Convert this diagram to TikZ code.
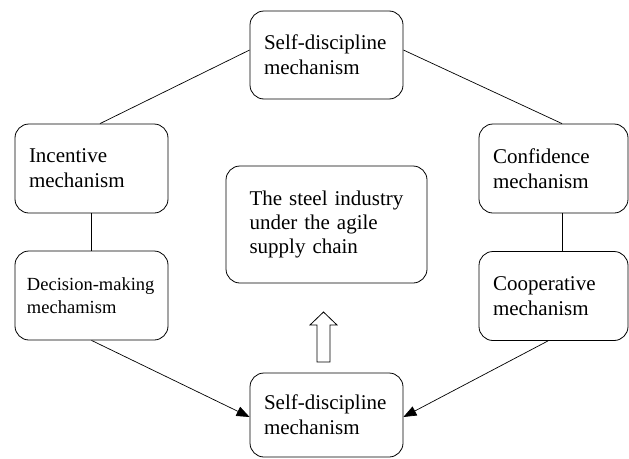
\documentclass[tikz,border=0pt]{standalone}
\usepackage{fontspec}
\setmainfont{Liberation Serif}
\usepackage{xcolor}
\usetikzlibrary{arrows, arrows.meta}
\usetikzlibrary{calc}
\hyphenpenalty=10000
\exhyphenpenalty=10000

\begin{document}
\begin{tikzpicture}[x=1pt, y=-1pt,
	mech/.style={draw, line width=0.8pt, rounded corners=14pt, align=left, text width=125pt, inner xsep=14pt, minimum height=88pt, font=\fontsize{21}{25}\selectfont},
	link/.style={line width=0.7pt},
	arr/.style={line width=0.7pt, -{Triangle[length=13pt, width=10pt]}}]
	\useasboundingbox (0,0) rectangle (629,458);

	% boxes
	\node[mech] (top) at (326.5,55) {Self-discipline\\mechanism};
	\node[mech, minimum height=89pt] (inc) at (91.5,168.5) {Incentive\\mechanism};
	\node[mech, minimum height=89pt, text width=129pt, inner xsep=12pt, font=\fontsize{18.5}{23}\selectfont] (dec) at (91.5,295.5) {Decision-making\\mechamism};
	\node[mech, minimum height=89pt, text width=121pt] (conf) at (553.5,168.5) {Confidence\\mechanism};
	\node[mech, minimum height=89pt, text width=121pt] (coop) at (553.5,296) {Cooperative\\mechanism};
	\node[mech, minimum height=117pt, text width=154pt, inner xsep=23.5pt, font=\fontsize{21}{24}\selectfont] (core) at (326.5,224.5) {The steel industry\\under the agile\\supply chain};
	\node[mech, minimum height=84pt] (bot) at (326.5,415) {Self-discipline\\mechanism};

	% lines
	\draw[link] ([yshift=5pt]top.west) -- ([xshift=8.5pt]inc.north);
	\draw[link] ([yshift=5pt]top.east) -- ([xshift=8.5pt]conf.north);
	\draw[link] (inc) -- (dec);
	\draw[link] ([xshift=8.5pt]conf.south) -- ([xshift=8.5pt]coop.north);

	% arrows into the bottom box
	\draw[arr] (dec.south) -- ([yshift=-2pt]bot.west);
	\draw[arr] ([xshift=-5.5pt]coop.south) -- ([yshift=-2pt]bot.east);

	% hollow arrow
	\draw[line width=0.8pt, fill=white] (317,362) -- (317,325) -- (310,325) -- (323.5,312) -- (337,325) -- (330,325) -- (330,362) -- cycle;
\end{tikzpicture}
\end{document}
